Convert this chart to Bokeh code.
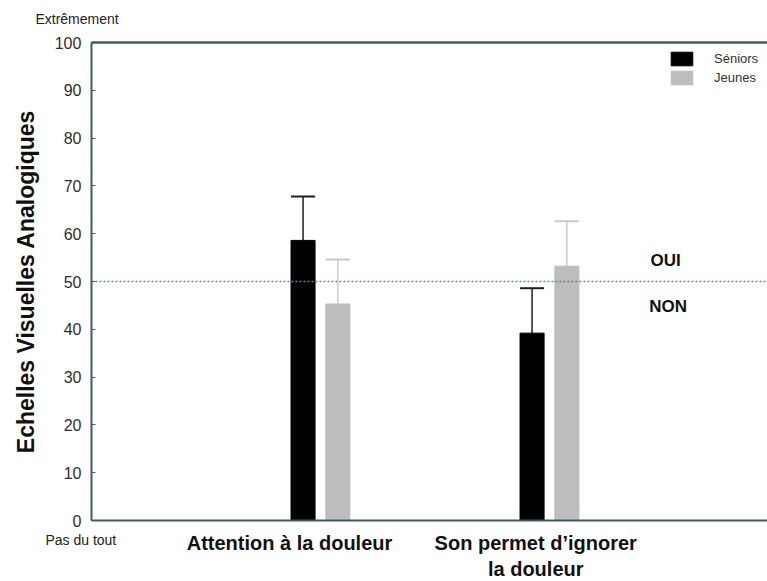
from bokeh.plotting import figure
from bokeh.models import Range1d, FixedTicker, LinearAxis
from bokeh.core.properties import value
from bokeh.embed import file_html
from bokeh.resources import INLINE

# Data
categories = ["Attention à la douleur", "Son permet d’ignorer\nla douleur"]
group_x = [1, 2]
label_x = [0.865, 1.94]
series = ["Séniors", "Jeunes"]
seniors_mean = [58.6, 39.2]
seniors_err = [9.2, 9.4]
jeunes_mean = [45.3, 53.2]
jeunes_err = [9.3, 9.4]
y_ticks = [0, 10, 20, 30, 40, 50, 60, 70, 80, 90, 100]
threshold = 50
scale_top_label = "Extrêmement"
scale_bottom_label = "Pas du tout"
above_label = "OUI"
below_label = "NON"

FONT = "Liberation Sans"
AXIS_COL = "#405c64"
X_END = 2.952
off = 0.076
bw = 0.105

p = figure(width=767, height=581, x_range=Range1d(-0.397, X_END), y_range=Range1d(-12.76, 108.79),
           output_backend="svg", toolbar_location=None,
           x_axis_location=None, y_axis_location=None)
p.min_border_left = 0
p.min_border_right = 0
p.min_border_top = 0
p.min_border_bottom = 0
p.outline_line_color = None
p.grid.visible = False

sx = [g - off for g in group_x]
jx = [g + off for g in group_x]
s_top = [m + e for m, e in zip(seniors_mean, seniors_err)]
j_top = [m + e for m, e in zip(jeunes_mean, jeunes_err)]

p.vbar(x=sx, top=seniors_mean, bottom=0, width=bw, color="#000000", legend_label=series[0])
p.vbar(x=jx, top=jeunes_mean, bottom=0, width=bw, color="#bdbdbd", legend_label=series[1])

# error bars (upper only)
p.segment(x0=sx, y0=seniors_mean, x1=sx, y1=s_top, line_color="#1e1e1e", line_width=1.5)
p.segment(x0=[x - bw / 2 for x in sx], y0=s_top, x1=[x + bw / 2 for x in sx], y1=s_top,
          line_color="#1e1e1e", line_width=2)
p.segment(x0=jx, y0=jeunes_mean, x1=jx, y1=j_top, line_color="#c8c8c8", line_width=1.4)
p.segment(x0=[x - bw / 2 for x in jx], y0=j_top, x1=[x + bw / 2 for x in jx], y1=j_top,
          line_color="#c8c8c8", line_width=2)

# threshold dotted line
p.segment(x0=[0], y0=[threshold], x1=[X_END], y1=[threshold], line_color="#5b8c9e",
          line_dash="2 2", line_width=1.3)

# y axis
ya = LinearAxis(fixed_location=0, bounds=(0, 100), ticker=FixedTicker(ticks=y_ticks))
ya.axis_label = "Echelles Visuelles Analogiques"
ya.axis_label_text_font = FONT
ya.axis_label_text_font_style = "bold"
ya.axis_label_text_font_size = "23px"
ya.axis_label_text_color = "#111111"
ya.axis_label_standoff = 13
ya.major_label_text_font = FONT
ya.major_label_text_font_size = "16px"
ya.major_label_text_color = "#2e2e2e"
ya.major_label_standoff = 10
ya.major_tick_in = 4
ya.major_tick_out = 0
ya.minor_tick_line_color = None
ya.axis_line_color = AXIS_COL
ya.axis_line_width = 2
ya.major_tick_line_color = AXIS_COL
p.add_layout(ya, "left")

# x axis
xa = LinearAxis(fixed_location=0, bounds=(0, X_END), ticker=FixedTicker(ticks=label_x))
xa.major_label_overrides = {x: c for x, c in zip(label_x, categories)}
xa.major_label_text_font = FONT
xa.major_label_text_font_style = "bold"
xa.major_label_text_font_size = "20px"
xa.major_label_text_color = "#111111"
xa.major_label_standoff = 5
xa.major_tick_line_color = None
xa.minor_tick_line_color = None
xa.axis_line_color = AXIS_COL
xa.axis_line_width = 2
p.add_layout(xa, "below")

# top frame line
ta = LinearAxis(fixed_location=100, bounds=(0, X_END), ticker=FixedTicker(ticks=[]))
ta.major_tick_line_color = None
ta.minor_tick_line_color = None
ta.major_label_text_font_size = "0px"
ta.axis_line_color = AXIS_COL
ta.axis_line_width = 2.5
p.add_layout(ta, "above")

# scale end labels and OUI / NON
p.text(x=[-0.2445, -0.2009], y=[105.0, -4.18], text=[scale_top_label, scale_bottom_label],
       text_font=value(FONT), text_font_size="14px", text_color="#222222",
       text_baseline="middle", text_align="left")
p.text(x=[2.441, 2.436], y=[54.4, 44.8], text=[above_label, below_label],
       text_font=value(FONT), text_font_size="17px", text_font_style="bold",
       text_color="#111111", text_baseline="middle", text_align="left")

lg = p.legend[0]
lg.location = (668, 495)
lg.padding = 0
lg.margin = 0
lg.spacing = 2
lg.border_line_color = None
lg.background_fill_alpha = 0
lg.glyph_width = 27
lg.glyph_height = 17
lg.label_height = 17
lg.label_standoff = 19
lg.label_text_font = FONT
lg.label_text_font_size = "13px"
lg.label_text_color = "#333333"

open("out.html", "w").write(file_html(p, INLINE))
